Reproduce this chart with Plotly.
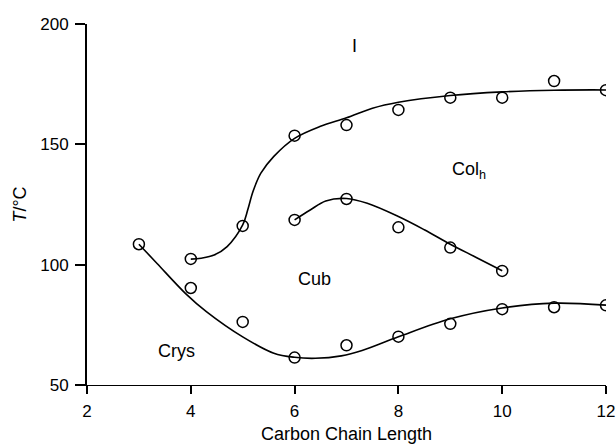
import plotly.graph_objects as go

# Measured data points
chain_top = [4, 5, 6, 7, 8, 9, 10, 11, 12]
temp_top = [102.4, 116.1, 153.6, 158.0, 164.3, 169.4, 169.4, 176.3, 172.5]

chain_mid = [6, 7, 8, 9, 10]
temp_mid = [118.6, 127.3, 115.5, 107.1, 97.4]

chain_bot = [3, 4, 5, 6, 7, 8, 9, 10, 11, 12]
temp_bot = [108.5, 90.3, 76.2, 61.4, 66.5, 70.1, 75.4, 81.5, 82.3, 83.1]

# Fitted boundary curves
fit_top_x = [4.0, 4.2, 4.45, 4.7, 5.0, 5.1, 5.2, 5.35, 5.6, 6.0, 6.5, 7.0, 7.5, 8.0, 9.0, 10.0, 11.0, 12.0]
fit_top_y = [102.3, 102.7, 104.0, 107.5, 116.5, 123.0, 130.5, 138.0, 145.0, 152.5, 157.5, 161.0, 165.0, 167.5, 170.3, 171.8, 172.5, 172.6]

fit_mid_x = [6.0, 6.3, 6.6, 7.0, 7.4, 8.0, 8.5, 9.0, 9.5, 10.0]
fit_mid_y = [118.6, 122.7, 126.5, 127.5, 125.5, 120.0, 114.5, 108.5, 103.0, 97.5]

fit_bot_x = [3.0, 3.35, 3.9, 4.3, 5.0, 5.6, 6.0, 6.4, 6.9, 7.3, 8.0, 9.0, 10.0, 11.0, 12.0]
fit_bot_y = [108.5, 100.5, 88.0, 80.5, 70.0, 63.2, 61.5, 61.1, 62.1, 64.3, 70.0, 77.5, 82.0, 84.0, 83.2]

# Phase labels
phase_names = ["I", "Col<sub>h</sub>", "Cub", "Crys"]
phase_x = [7.16, 9.36, 6.39, 3.73]
phase_y = [190.9, 139.0, 94.1, 64.1]

x_ticks = [2, 4, 6, 8, 10, 12]
y_ticks = [50, 100, 150, 200]

FONT = "Liberation Sans, Arial, Helvetica, sans-serif"
INK = "#000000"

fig = go.Figure()

for fx, fy in [(fit_top_x, fit_top_y), (fit_mid_x, fit_mid_y), (fit_bot_x, fit_bot_y)]:
    fig.add_trace(go.Scatter(
        x=fx, y=fy, mode="lines",
        line=dict(color=INK, width=1.6, shape="spline", smoothing=1.0),
        hoverinfo="skip", showlegend=False,
    ))

for px, py in [(chain_top, temp_top), (chain_mid, temp_mid), (chain_bot, temp_bot)]:
    fig.add_trace(go.Scatter(
        x=px, y=py, mode="markers",
        marker=dict(symbol="circle-open", size=11, color=INK, line=dict(width=1.5, color=INK)),
        showlegend=False,
    ))

for name, ax, ay in zip(phase_names, phase_x, phase_y):
    fig.add_annotation(
        x=ax, y=ay, text=name, showarrow=False,
        font=dict(family=FONT, size=18, color=INK),
        xanchor="center", yanchor="middle",
    )

fig.update_layout(
    width=616, height=444,
    margin=dict(l=87, r=10, t=24, b=59),
    paper_bgcolor="white", plot_bgcolor="white",
    font=dict(family=FONT, size=17, color=INK),
    showlegend=False,
)

fig.update_xaxes(
    range=[2, 12], tickvals=x_ticks, ticktext=[str(v) for v in x_ticks],
    showgrid=False, zeroline=False,
    showline=True, linecolor=INK, linewidth=1.2,
    ticks="outside", ticklen=8, tickwidth=1.5, tickcolor=INK,
    ticklabelstandoff=2,
    tickfont=dict(family=FONT, size=17, color=INK),
    title=dict(text="Carbon Chain Length", font=dict(family=FONT, size=18, color=INK), standoff=7),
    automargin=False,
)
fig.update_yaxes(
    range=[50, 200], tickvals=y_ticks, ticktext=[str(v) for v in y_ticks],
    showgrid=False, zeroline=False,
    showline=True, linecolor=INK, linewidth=2,
    ticks="outside", ticklen=10, tickwidth=1.5, tickcolor=INK,
    ticklabelstandoff=3,
    tickfont=dict(family=FONT, size=17, color=INK),
    title=dict(text="<i>T</i>/°C", font=dict(family=FONT, size=18, color=INK), standoff=9),
    automargin=False,
)

fig.write_html("out.html")
